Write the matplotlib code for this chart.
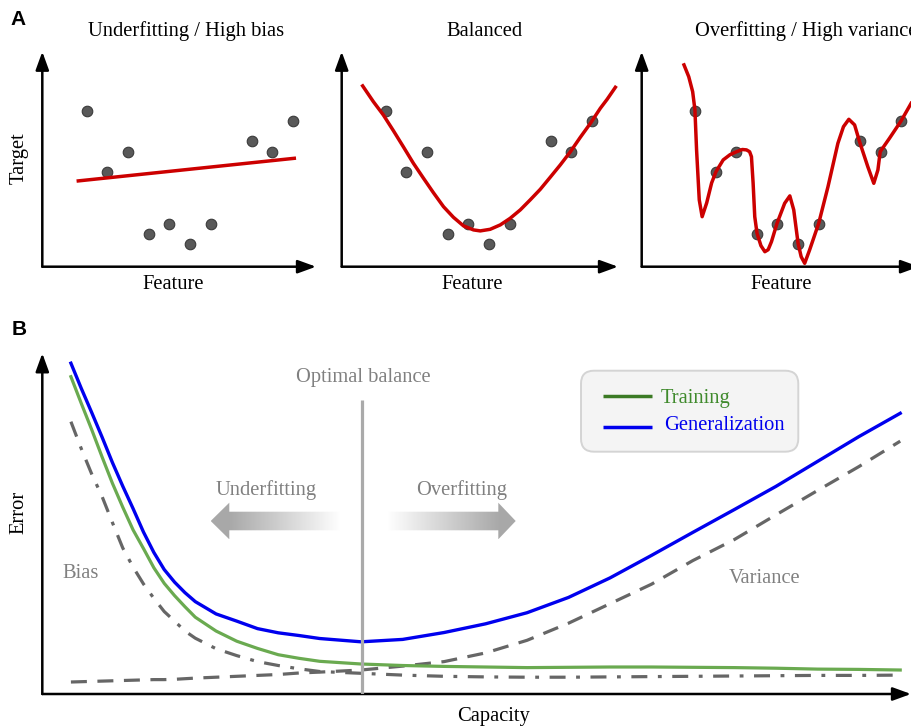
import numpy as np
import matplotlib.pyplot as plt
from matplotlib.patches import FancyBboxPatch, Polygon

# ---- Panel A data: toy regression points and the three fits ----
feature_x = [0, 1, 2, 3, 4, 5, 6, 8, 9, 10]
target_y = [7.8, 4.72, 5.75, 1.62, 2.13, 1.12, 2.13, 6.27, 5.75, 7.3]

under_x = [-0.41, 10.06]
under_y = [4.29, 5.42]

bal_x = [-1.12, -0.60, -0.12, 0.37, 0.85, 1.34, 1.83, 2.31, 2.80, 3.28, 3.77, 4.25, 4.58,
         5.06, 5.55, 6.03, 6.52, 7.0, 7.49, 7.97, 8.46, 8.95, 9.43, 9.92, 10.4, 10.73, 11.13]
bal_y = [9.04, 8.25, 7.59, 6.80, 6.0, 5.17, 4.42, 3.70, 3.0, 2.47, 2.04, 1.84, 1.79,
         1.87, 2.09, 2.42, 2.84, 3.34, 3.87, 4.47, 5.09, 5.75, 6.47, 7.17, 7.92, 8.37, 8.97]

over_x = [-0.53, -0.3, -0.11, 0.0, 0.08, 0.21, 0.35, 0.57, 0.81, 1.02, 1.37, 1.7, 2.02, 2.3,
          2.5, 2.65, 2.74, 2.82, 2.9, 3.01, 3.2, 3.39, 3.55, 3.71, 3.98, 4.35, 4.6, 4.79,
          5.0, 5.15, 5.32, 5.56, 6.0, 6.45, 6.93, 7.2, 7.46, 7.74, 7.98, 8.38, 8.67, 8.87,
          8.98, 9.43, 10.0, 10.48]
over_y = [10.09, 9.5, 8.75, 7.84, 5.84, 3.34, 2.5, 3.19, 4.19, 4.75, 5.34, 5.6, 5.75, 5.86,
          5.84, 5.75, 5.5, 4.19, 2.5, 1.67, 1.05, 0.75, 0.85, 1.25, 2.17, 3.17, 3.54, 2.84,
          1.17, 0.5, 0.17, 0.84, 2.17, 4.0, 6.17, 7.0, 7.37, 7.09, 6.25, 5.0, 4.17, 4.84,
          5.75, 6.42, 7.3, 8.17]

panel_titles = ['Underfitting / High bias', 'Balanced', 'Overfitting / High variance']

# ---- Panel B data: error vs capacity ----
capacity = [0, 0.125, 0.25, 0.375, 0.5, 0.625, 0.75, 0.875, 1, 1.125, 1.25, 1.375, 1.5,
            1.75, 2, 2.25, 2.5, 2.75, 3, 3.5, 4, 4.5, 5, 5.5, 6, 6.5, 7, 7.5, 8, 8.5,
            9, 9.5, 10]
generalization = [11.03, 10.19, 9.39, 8.57, 7.72, 6.93, 6.18, 5.4, 4.72, 4.15, 3.73, 3.38,
                  3.08, 2.67, 2.43, 2.18, 2.04, 1.95, 1.85, 1.74, 1.82, 2.05, 2.34, 2.71,
                  3.22, 3.87, 4.62, 5.39, 6.15, 6.92, 7.75, 8.58, 9.36]
training = [10.58, 9.69, 8.82, 7.91, 7.03, 6.23, 5.47, 4.85, 4.21, 3.69, 3.28, 2.91, 2.56,
            2.1, 1.76, 1.52, 1.31, 1.19, 1.09, 1.0, 0.95, 0.92, 0.9, 0.88, 0.89, 0.9, 0.9,
            0.89, 0.88, 0.86, 0.83, 0.82, 0.8]
bias = [9.08, 8.18, 7.34, 6.59, 5.72, 4.87, 4.23, 3.67, 3.19, 2.75, 2.43, 2.1, 1.86, 1.51,
        1.28, 1.08, 0.95, 0.84, 0.75, 0.69, 0.63, 0.59, 0.57, 0.56, 0.56, 0.57, 0.58, 0.59,
        0.6, 0.61, 0.62, 0.62, 0.63]
variance = [0.4, 0.41, 0.42, 0.43, 0.44, 0.45, 0.46, 0.47, 0.48, 0.48, 0.49, 0.51, 0.53,
            0.56, 0.59, 0.62, 0.65, 0.7, 0.73, 0.8, 0.93, 1.08, 1.37, 1.79, 2.36, 3.01,
            3.66, 4.45, 5.15, 5.97, 6.78, 7.58, 8.43]
optimal_capacity = 3.51
optimal_top = 9.8

plt.rcParams['font.family'] = 'serif'
plt.rcParams['font.serif'] = ['Liberation Serif', 'DejaVu Serif']

W, H = 912, 727
fig = plt.figure(figsize=(W / 100, H / 100), dpi=100)

RED = '#cc0000'
GRAY_TXT = '#808080'
GRAY_LINE = '#666666'
FS = 14.8


def px_axes(left, right, top, bottom):
    return fig.add_axes([left / W, 1 - bottom / H, (right - left) / W, (bottom - top) / H])


def arrow_axes(ax):
    for s in ax.spines.values():
        s.set_visible(False)
    ax.set_xticks([])
    ax.set_yticks([])
    ax.patch.set_alpha(0)
    style = '-|>,head_length=0.55,head_width=0.2'
    for xy in [(1, 0), (0, 1)]:
        ax.annotate('', xy=xy, xytext=(0, 0), xycoords='axes fraction',
                    arrowprops=dict(arrowstyle=style, color='black', lw=1.8,
                                    mutation_scale=20, shrinkA=0, shrinkB=0),
                    annotation_clip=False)


# ---- Panel A ----
a_boxes = [(42.3, 316, -2.155), (341.7, 618, -2.136), (641.7, 919, -2.58)]
fits = [(under_x, under_y), (bal_x, bal_y), (over_x, over_y)]
for (l, r, x0), (fx, fy) in zip(a_boxes, fits):
    ax = px_axes(l, r, 51.7, 266.7)
    ax.set_xlim(x0, x0 + (r - l) / 20.63)
    ax.set_ylim(0, 10.75)
    arrow_axes(ax)
    ax.plot(feature_x, target_y, 'o', ms=7.6, mfc='#595959', mec='#3a3a3a', mew=0.8, zorder=2)
    ax.plot(fx, fy, color=RED, lw=2.5, zorder=3, solid_joinstyle='round')

# ---- Panel B ----
axB = px_axes(42.3, 911, 353.3, 694)
axB.set_xlim(-0.345, 10.13)
axB.set_ylim(0, 11.36)
arrow_axes(axB)
axB.plot(capacity, variance, color=GRAY_LINE, lw=2.3, ls=(0, (5, 3.3)))
axB.plot(capacity, bias, color=GRAY_LINE, lw=2.3, ls=(0, (5, 3.3, 1.2, 3.3)))
axB.plot(capacity, training, color='#6aaa50', lw=2.3, solid_joinstyle='round')
axB.plot(capacity, generalization, color='#0000ee', lw=2.4, solid_joinstyle='round')
axB.vlines(optimal_capacity, 0, optimal_top, color='#aaaaaa', lw=2.3, zorder=5)

# ---- overlay in pixel coordinates for labels, legend and hint arrows ----
ov = fig.add_axes([0, 0, 1, 1])
ov.set_axis_off()
ov.patch.set_alpha(0)


def gradient_arrow(tip, base, tail, yc, shaft_half=9.3, head_half=18.3, grey=0.66):
    pts = [(tip, yc), (base, yc - head_half), (base, yc - shaft_half), (tail, yc - shaft_half),
           (tail, yc + shaft_half), (base, yc + shaft_half), (base, yc + head_half)]
    patch = Polygon(pts, closed=True, facecolor='none', edgecolor='none')
    ov.add_patch(patch)
    left, right = min(tip, tail), max(tip, tail)
    xs = np.linspace(left, right, 300)
    frac = np.clip(np.abs(xs - tail) / abs(base - tail), 0, 1)
    img = np.ones((1, xs.size, 4))
    img[..., :3] = grey
    img[0, :, 3] = frac
    im = ov.imshow(img, extent=(left, right, yc + head_half, yc - head_half),
                   aspect='auto', interpolation='bilinear')
    im.set_clip_path(patch)


gradient_arrow(210.7, 229.3, 340, 521)
gradient_arrow(515.7, 498.3, 386.7, 521)

# legend box
ov.add_patch(FancyBboxPatch((581, 370.7), 217.3, 81, boxstyle='round,pad=0,rounding_size=13',
                            facecolor='#f4f4f4', edgecolor='#d4d4d4', lw=1.4))
ov.plot([603.3, 651.7], [396, 396], color='#3b7a24', lw=2.5, solid_capstyle='butt')
ov.plot([603.3, 651.7], [426.7, 426.7], color='#0000ee', lw=2.5, solid_capstyle='butt')
ov.text(661, 402.7, 'Training', color='#3f8a2c', fontsize=FS, va='baseline')
ov.text(663.7, 430, 'Generalization', color='#0000ee', fontsize=FS, va='baseline')

# panel A texts
for cx, t in zip([185.7, 484.8, 805.7], panel_titles):
    ov.text(cx, 35.7, t, fontsize=FS, ha='center', va='baseline')
for cx in [173.3, 472.2, 781.7]:
    ov.text(cx, 289.3, 'Feature', fontsize=FS, ha='center', va='baseline')
ov.text(19, 158, 'Target', fontsize=FS, rotation=90, ha='center', va='center')

# panel B texts
ov.text(363, 381.7, 'Optimal balance', fontsize=FS, color=GRAY_TXT, ha='center', va='baseline')
ov.text(266.3, 495, 'Underfitting', fontsize=FS, color=GRAY_TXT, ha='center', va='baseline')
ov.text(462, 495, 'Overfitting', fontsize=FS, color=GRAY_TXT, ha='center', va='baseline')
ov.text(81, 577.7, 'Bias', fontsize=FS, color=GRAY_TXT, ha='center', va='baseline')
ov.text(765, 582.7, 'Variance', fontsize=FS, color=GRAY_TXT, ha='center', va='baseline')
ov.text(493.7, 720.7, 'Capacity', fontsize=FS, ha='center', va='baseline')
ov.text(19, 512.5, 'Error', fontsize=FS, rotation=90, ha='center', va='center')

# panel letters
ov.text(10, 25, 'A', fontsize=15, fontweight='bold', family='Liberation Sans', va='baseline')
ov.text(11.5, 335, 'B', fontsize=15, fontweight='bold', family='Liberation Sans', va='baseline')

ov.set_xlim(0, W)
ov.set_ylim(H, 0)

fig.savefig('out.png', dpi=100)
